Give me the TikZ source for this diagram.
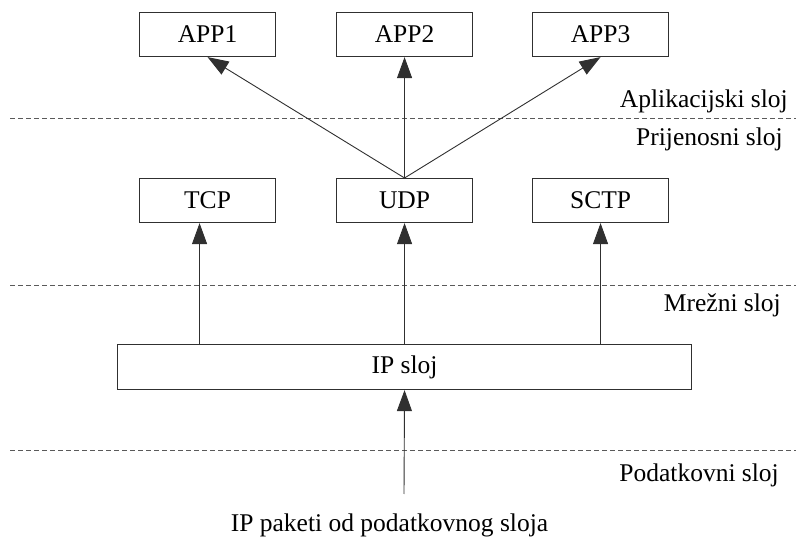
\documentclass[tikz,border=0pt]{standalone}
\usepackage{fontspec}
\setmainfont{Liberation Serif}
\usetikzlibrary{arrows.meta}
\definecolor{linec}{HTML}{303030}
\definecolor{dashc}{HTML}{5A5A5A}
\begin{document}
\begin{tikzpicture}[x=1pt,y=-1pt,
  font=\fontsize{25.5}{30}\selectfont,
  box/.style={draw=linec,line width=1.1pt,minimum width=136pt,minimum height=44pt,inner sep=0pt,anchor=north west},
  arr/.style={draw=linec,line width=0.9pt,-{Triangle[length=21pt,width=15pt]}},
  layer/.style={draw=dashc,line width=0.9pt,dash pattern=on 5pt off 3pt},
  lbl/.style={anchor=base east,inner sep=0pt}]
\useasboundingbox (0,0) rectangle (796,537);
% layer lines
\draw[layer] (10,118) -- (796,118);
\draw[layer] (10,285) -- (796,285);
\draw[layer] (10,450) -- (796,450);
% boxes
\node[box] (app1) at (139,12) {APP1};
\node[box] (app2) at (336,12) {APP2};
\node[box] (app3) at (532,12) {APP3};
\node[box] (tcp) at (139,178) {TCP};
\node[box] (udp) at (336,178) {UDP};
\node[box] (sctp) at (532,178) {SCTP};
\node[box,minimum width=574pt,minimum height=45pt] (ip) at (117,344) {IP sloj};
% labels
\node[lbl] (l1) at (788,108) {Aplikacijski sloj};
\node[lbl] (l2) at (783,146) {Prijenosni sloj};
\node[lbl] (l3) at (781,312) {Mrežni sloj};
\node[lbl] (l4) at (779,482) {Podatkovni sloj};
\node[anchor=base,inner sep=0pt] (src) at (389.5,532) {IP paketi od podatkovnog sloja};
\coordinate (srcpt) at (404,494);
% arrows
\draw[arr] (udp.north) -- (app1.south);
\draw[arr] (udp.north) -- (app2.south);
\draw[arr] (udp.north) -- (app3.south);
\draw[arr] ([xshift=-8pt]tcp.south |- ip.north) -- ([xshift=-8pt]tcp.south);
\draw[arr] (udp.south |- ip.north) -- (udp.south);
\draw[arr] (sctp.south |- ip.north) -- (sctp.south);
\draw[arr] (srcpt) -- (ip.south);
\end{tikzpicture}
\end{document}
